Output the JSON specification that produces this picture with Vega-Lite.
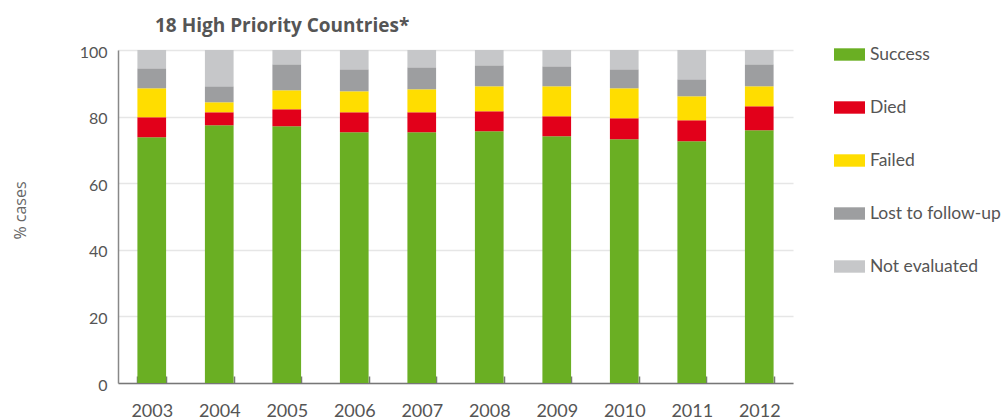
{
  "$schema": "https://vega.github.io/schema/vega-lite/v6.json",
  "width": 675,
  "height": 333,
  "autosize": {"type": "none"},
  "padding": {"left": 118, "top": 50, "right": 211, "bottom": 36},
  "background": "white",
  "title": {
    "text": "18 High Priority Countries*",
    "anchor": "start",
    "frame": "group",
    "dx": 37,
    "dy": 31,
    "offset": 19,
    "baseline": "alphabetic",
    "font": "Open Sans",
    "fontSize": 19,
    "fontWeight": "bold",
    "color": "#555555"
  },
  "data": {
    "values": [
      {"year": "2003", "outcome": "Success", "k": 1, "pct": 73.8},
      {"year": "2003", "outcome": "Died", "k": 2, "pct": 6.0},
      {"year": "2003", "outcome": "Failed", "k": 3, "pct": 8.7},
      {"year": "2003", "outcome": "Lost to follow-up", "k": 4, "pct": 6.0},
      {"year": "2003", "outcome": "Not evaluated", "k": 5, "pct": 5.5},
      {"year": "2004", "outcome": "Success", "k": 1, "pct": 77.4},
      {"year": "2004", "outcome": "Died", "k": 2, "pct": 3.9},
      {"year": "2004", "outcome": "Failed", "k": 3, "pct": 3.0},
      {"year": "2004", "outcome": "Lost to follow-up", "k": 4, "pct": 4.8},
      {"year": "2004", "outcome": "Not evaluated", "k": 5, "pct": 10.9},
      {"year": "2005", "outcome": "Success", "k": 1, "pct": 77.1},
      {"year": "2005", "outcome": "Died", "k": 2, "pct": 5.1},
      {"year": "2005", "outcome": "Failed", "k": 3, "pct": 5.7},
      {"year": "2005", "outcome": "Lost to follow-up", "k": 4, "pct": 7.8},
      {"year": "2005", "outcome": "Not evaluated", "k": 5, "pct": 4.3},
      {"year": "2006", "outcome": "Success", "k": 1, "pct": 75.3},
      {"year": "2006", "outcome": "Died", "k": 2, "pct": 6.0},
      {"year": "2006", "outcome": "Failed", "k": 3, "pct": 6.3},
      {"year": "2006", "outcome": "Lost to follow-up", "k": 4, "pct": 6.6},
      {"year": "2006", "outcome": "Not evaluated", "k": 5, "pct": 5.8},
      {"year": "2007", "outcome": "Success", "k": 1, "pct": 75.3},
      {"year": "2007", "outcome": "Died", "k": 2, "pct": 6.0},
      {"year": "2007", "outcome": "Failed", "k": 3, "pct": 6.9},
      {"year": "2007", "outcome": "Lost to follow-up", "k": 4, "pct": 6.6},
      {"year": "2007", "outcome": "Not evaluated", "k": 5, "pct": 5.2},
      {"year": "2008", "outcome": "Success", "k": 1, "pct": 75.6},
      {"year": "2008", "outcome": "Died", "k": 2, "pct": 6.0},
      {"year": "2008", "outcome": "Failed", "k": 3, "pct": 7.5},
      {"year": "2008", "outcome": "Lost to follow-up", "k": 4, "pct": 6.3},
      {"year": "2008", "outcome": "Not evaluated", "k": 5, "pct": 4.6},
      {"year": "2009", "outcome": "Success", "k": 1, "pct": 74.1},
      {"year": "2009", "outcome": "Died", "k": 2, "pct": 6.0},
      {"year": "2009", "outcome": "Failed", "k": 3, "pct": 9.0},
      {"year": "2009", "outcome": "Lost to follow-up", "k": 4, "pct": 6.0},
      {"year": "2009", "outcome": "Not evaluated", "k": 5, "pct": 4.9},
      {"year": "2010", "outcome": "Success", "k": 1, "pct": 73.2},
      {"year": "2010", "outcome": "Died", "k": 2, "pct": 6.3},
      {"year": "2010", "outcome": "Failed", "k": 3, "pct": 9.0},
      {"year": "2010", "outcome": "Lost to follow-up", "k": 4, "pct": 5.7},
      {"year": "2010", "outcome": "Not evaluated", "k": 5, "pct": 5.8},
      {"year": "2011", "outcome": "Success", "k": 1, "pct": 72.6},
      {"year": "2011", "outcome": "Died", "k": 2, "pct": 6.3},
      {"year": "2011", "outcome": "Failed", "k": 3, "pct": 7.2},
      {"year": "2011", "outcome": "Lost to follow-up", "k": 4, "pct": 5.1},
      {"year": "2011", "outcome": "Not evaluated", "k": 5, "pct": 8.8},
      {"year": "2012", "outcome": "Success", "k": 1, "pct": 75.9},
      {"year": "2012", "outcome": "Died", "k": 2, "pct": 7.2},
      {"year": "2012", "outcome": "Failed", "k": 3, "pct": 6.0},
      {"year": "2012", "outcome": "Lost to follow-up", "k": 4, "pct": 6.6},
      {"year": "2012", "outcome": "Not evaluated", "k": 5, "pct": 4.3}
    ]
  },
  "mark": {"type": "bar"},
  "encoding": {
    "x": {
      "field": "year",
      "type": "nominal",
      "scale": {"paddingInner": 0.575, "paddingOuter": 0.2875},
      "axis": {
        "title": null,
        "labelAngle": 0,
        "labelFont": "Lato",
        "labelFontSize": 18,
        "labelColor": "#555555",
        "labelPadding": 26,
        "tickBand": "extent",
        "tickSize": -7,
        "tickColor": "#777777",
        "tickWidth": 1.5,
        "domainColor": "#777777",
        "domainWidth": 1.5,
        "grid": false
      }
    },
    "y": {
      "field": "pct",
      "type": "quantitative",
      "stack": "zero",
      "scale": {"domain": [0, 100], "nice": false},
      "axis": {
        "title": "% cases",
        "titleFont": "Open Sans",
        "titleFontSize": 16,
        "titleFontWeight": "normal",
        "titleColor": "#666666",
        "titleAngle": -90,
        "titleAlign": "center",
        "titleBaseline": "middle",
        "titleX": -98,
        "titleY": 160,
        "values": [0, 20, 40, 60, 80, 100],
        "labelFont": "Lato",
        "labelFontSize": 16,
        "labelColor": "#555555",
        "labelPadding": 11,
        "labelBaseline": "middle",
        "labelOffset": 2,
        "ticks": false,
        "domainColor": "#888888",
        "domainWidth": 1.5,
        "gridColor": "#e6e6e6",
        "gridWidth": 1.5
      }
    },
    "color": {
      "field": "outcome",
      "type": "nominal",
      "scale": {
        "domain": ["Success", "Died", "Failed", "Lost to follow-up", "Not evaluated"],
        "range": ["#6aaf23", "#e2001a", "#ffdd00", "#9d9ea0", "#c6c7c9"]
      },
      "legend": {
        "title": null,
        "orient": "none",
        "legendX": 716,
        "legendY": -11,
        "symbolType": "M-1,-0.4H1V0.4H-1Z",
        "symbolSize": 961,
        "symbolStrokeWidth": 0,
        "labelFont": "Lato",
        "labelFontSize": 17.5,
        "labelColor": "#555555",
        "labelOffset": 5,
        "rowPadding": 29,
        "labelLimit": 300
      }
    },
    "order": {"field": "k", "type": "quantitative", "sort": "ascending"}
  },
  "config": {"view": {"stroke": null}}
}
